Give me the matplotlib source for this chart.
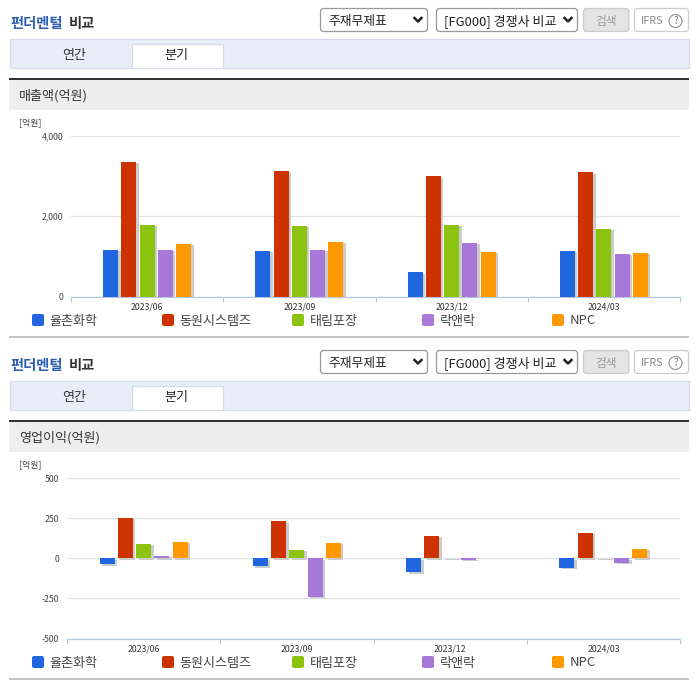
import matplotlib
matplotlib.use("Agg")
from matplotlib import pyplot as plt
from matplotlib.patches import Rectangle, FancyBboxPatch, Circle
import matplotlib.patheffects as pe
import numpy as np

plt.rcParams['font.family'] = ['Noto Sans CJK KR', 'DejaVu Sans']

W, H = 696, 684

quarters = ['2023/06', '2023/09', '2023/12', '2024/03']
companies = ['율촌화학', '동원시스템즈', '태림포장', '락앤락', 'NPC']
colors = ['#1f66e0', '#cc3300', '#8cc30f', '#a878d8', '#ff9900']

# 매출액 (억원)
sales_yc = [1155, 1130, 605, 1130]
sales_dw = [3350, 3130, 2985, 3085]
sales_tr = [1785, 1755, 1785, 1680]
sales_ll = [1155, 1155, 1330, 1055]
sales_npc = [1305, 1355, 1105, 1080]

# 영업이익 (억원)
profit_yc = [-37, -50, -87, -60]
profit_dw = [253, 229, 139, 160]
profit_tr = [89, 52, 3, 3]
profit_ll = [15, -240, -8, -30]
profit_npc = [102, 96, 0, 59]

sales_ticks = [0, 2000, 4000]
profit_ticks = [-500, -250, 0, 250, 500]

fig = plt.figure(figsize=(W / 100, H / 100), dpi=100)

# page furniture is drawn in pixel coords on one big axes
bg = fig.add_axes([0, 0, 1, 1])
bg.set_xlim(0, W)
bg.set_ylim(H, 0)
bg.axis('off')


def box(x0, y0, x1, y1, fc='white', ec='#999999', round=3):
    bg.add_patch(FancyBboxPatch((x0, y0), x1 - x0, y1 - y0,
                                boxstyle='round,pad=0,rounding_size=%s' % round,
                                fc=fc, ec=ec, lw=0.9))


def chevron(x, y):
    bg.plot([x - 3.5, x, x + 3.5], [y - 2, y + 1.5, y - 2], color='#222222', lw=1.8)


def page_block(dy, heading):
    bg.text(10, 24 + dy, '펀더멘털', color='#2f5fb0', fontsize=10.3, fontweight='bold', va='center')
    bg.text(69, 24 + dy, '비교', color='#333333', fontsize=10.3, fontweight='bold', va='center')

    box(320.5, 8.5 + dy, 427.5, 31.5 + dy)
    bg.text(328, 21 + dy, '주재무제표', color='#222222', fontsize=9.2, va='center')
    chevron(418, 20 + dy)
    box(436.5, 8.5 + dy, 577.5, 31.5 + dy)
    bg.text(444, 21 + dy, '[FG000] 경쟁사 비교', color='#222222', fontsize=9.4, va='center')
    chevron(568, 20 + dy)
    box(583.5, 8.5 + dy, 629, 31.5 + dy, fc='#e4e4e4', ec='#cccccc')
    bg.text(606, 21 + dy, '검색', color='#999999', fontsize=8.4, ha='center', va='center')
    box(634.5, 8.5 + dy, 688.5, 31.5 + dy, ec='#cccccc')
    bg.text(641, 20.5 + dy, 'IFRS', color='#888888', fontsize=7.8, va='center')
    bg.add_patch(Circle((675.5, 21 + dy), 6.5, fc='white', ec='#999999', lw=0.9))
    bg.text(675.5, 21 + dy, '?', color='#777777', fontsize=7, ha='center', va='center')

    bg.add_patch(Rectangle((9.5, 38.5 + dy), 679, 29, fc='#e8eef8', ec='#d5dce8', lw=0.9))
    # active tab, open at the bottom
    bg.add_patch(Rectangle((131.5, 43.5 + dy), 91, 24, fc='white', ec='none'))
    bg.plot([131.5, 131.5, 222.5, 222.5], [67.5 + dy, 43.5 + dy, 43.5 + dy, 67.5 + dy], color='#d5dce8', lw=0.9)
    bg.text(74, 55 + dy, '연간', color='#333333', fontsize=9.4, ha='center', va='center')
    bg.text(176.5, 55 + dy, '분기', color='#222222', fontsize=9.4, ha='center', va='center')

    bg.add_patch(Rectangle((9, 78 + dy), 680, 2, fc='#333333', ec='none'))
    bg.add_patch(Rectangle((9, 80 + dy), 680, 30, fc='#eeeeee', ec='none'))
    bg.text(19, 96 + dy, heading, color='#333333', fontsize=9.4, va='center')
    bg.text(19, 122.5 + dy, '[억원]', color='#444444', fontsize=6.4, va='center')

    # legend
    for name, col, sx, tx in zip(companies, colors, [32, 162, 292, 422, 552], [49, 179, 310, 440, 570]):
        bg.add_patch(FancyBboxPatch((sx, 314 + dy), 12, 12, boxstyle='round,pad=0,rounding_size=2',
                                    fc=col, ec='none'))
        bg.text(tx, 321 + dy, name, color='#444444', fontsize=9.4, va='center')

    bg.add_patch(Rectangle((9, 336 + dy), 680, 2, fc='#c4c4c4', ec='none'))


def bar_chart(x0, x1, y_top, y_bot, series, ticks, lims):
    ax = fig.add_axes([x0 / W, 1 - y_bot / H, (x1 - x0) / W, (y_bot - y_top) / H])
    ax.patch.set_alpha(0)
    idx = np.arange(len(quarters))
    step = 18.25 / ((x1 - x0) / len(quarters))
    width = 15 / ((x1 - x0) / len(quarters))
    for i, (vals, col) in enumerate(zip(series, colors)):
        bars = ax.bar(idx + (i - 2) * step, vals, width, color=col, zorder=3)
        for b in bars:
            if b.get_height() != 0:
                b.set_path_effects([pe.SimplePatchShadow(offset=(1.8, -1.0), shadow_rgbFace='#cccccc', alpha=1),
                                    pe.Normal()])
    ax.set_xlim(-0.5, len(quarters) - 0.5)
    ax.set_ylim(*lims)
    ax.set_yticks(ticks)
    ax.set_yticklabels([format(t, ',') for t in ticks], fontsize=6.3, color='#444444')
    ax.tick_params(axis='y', length=0, pad=5.8)
    ax.set_xticks(idx)
    ax.set_xticklabels(quarters, fontsize=6.3, color='#333333')
    ax.tick_params(axis='x', length=0, pad=4)
    # ticks sit on the category boundaries
    ax.set_xticks(np.arange(len(quarters) + 1) - 0.5, minor=True)
    ax.tick_params(axis='x', which='minor', length=3.5, width=0.8, color='#b8c8dc')
    ax.grid(axis='y', color='#dde0e4', lw=0.9, zorder=0)
    for s in ['top', 'left', 'right']:
        ax.spines[s].set_visible(False)
    ax.spines['bottom'].set_color('#b8c8dc')
    ax.spines['bottom'].set_linewidth(0.9)
    return ax


page_block(0, '매출액(억원)')
page_block(342, '영업이익(억원)')

bar_chart(71, 680, 135.5, 296.5, [sales_yc, sales_dw, sales_tr, sales_ll, sales_npc], sales_ticks, (0, 4000))
bar_chart(67, 680, 478, 638.5, [profit_yc, profit_dw, profit_tr, profit_ll, profit_npc], profit_ticks, (-500, 500))

plt.savefig('out.png', dpi=100)
